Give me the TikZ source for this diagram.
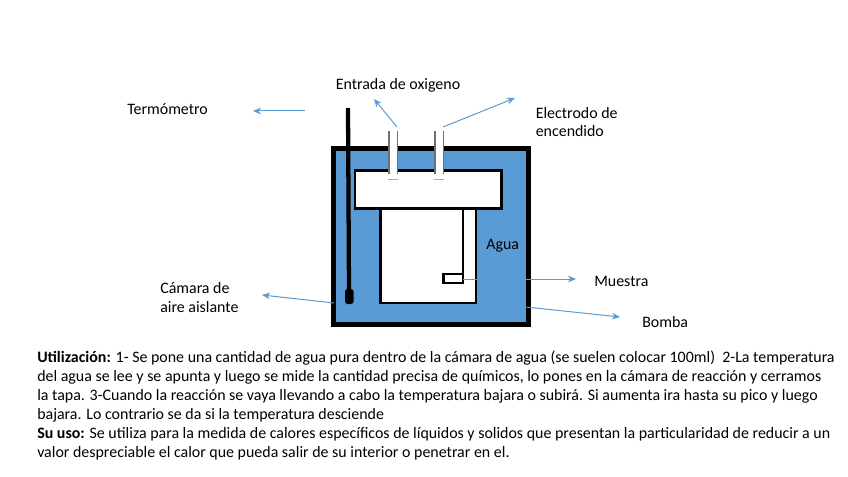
\documentclass[tikz,border=0pt]{standalone}
\usepackage{fontspec}
\setmainfont{Carlito}
\usetikzlibrary{arrows.meta}
\definecolor{agua}{HTML}{5B9BD5}
\definecolor{tubo}{HTML}{6F6F6F}
\tikzset{
  lbl/.style={anchor=base west,inner sep=0pt,font=\fontsize{11.95pt}{14pt}\selectfont},
  txt/.style={anchor=base west,inner sep=0pt,font=\fontsize{11.95pt}{14pt}\selectfont},
  callout/.style={draw=agua,line width=0.75pt,-{Stealth[length=6pt,width=5pt]}},
  wall/.style={draw=black,line width=1.9pt},
  tubeedge/.style={draw=tubo,line width=1.1pt},
}
\begin{document}
\begin{tikzpicture}[x=0.75pt,y=-0.75pt]
\useasboundingbox (0,0) rectangle (848,477);
\fill[white] (0,0) rectangle (848,477);
% bomb
\path[fill=agua,draw=black,line width=3.75pt] (333.5,148.5) rectangle (528.5,324.5);
% reaction chamber
\path[fill=white,wall] (380.5,209) rectangle (476,303);
% lid
\path[fill=white,wall] (355,170.5) rectangle (501.5,208.5);
% sample holder
\draw[wall] (462.8,209) -- (462.8,274);
\path[fill=white,wall] (443.5,274) rectangle (462.8,283);
% thermometer
\draw[black,line width=3.2pt] (348,108) -- (349,292);
\fill[black,rounded corners=2pt] (345,289) rectangle (353.5,304);
% tubes
\fill[white] (389,131) rectangle (397.5,173);
\fill[white] (435,131) rectangle (443.5,173);
\draw[tubeedge] (389,131) -- (389,174);
\draw[tubeedge] (397.5,131) -- (397.5,174);
\draw[tubeedge] (435,131) -- (435,174);
\draw[tubeedge] (443.5,131) -- (443.5,174);
\draw[draw=tubo!60,line width=0.6pt] (388,179) -- (398,179);
\draw[draw=tubo!60,line width=0.6pt] (434,179) -- (444,179);
% labels
\node[lbl] (termo) at (127,115) {Termómetro};
\node[lbl] (entrada) at (335.5,89.5) {Entrada de oxigeno};
\node[lbl] (electrodo1) at (535.5,118.5) {Electrodo de};
\node[lbl] (electrodo2) at (535.5,136.5) {encendido};
\node[lbl] (aguatxt) at (486,249) {Agua};
\node[lbl] (camara1) at (160,293) {Cámara de};
\node[lbl] (camara2) at (160,312) {aire aislante};
\node[lbl] (muestra) at (594,286) {Muestra};
\node[lbl] (bomba) at (642,327) {Bomba};
% callouts
\coordinate (a1) at (305,111); \coordinate (b1) at (253,111);
\coordinate (a2) at (397,127); \coordinate (b2) at (374,99);
\coordinate (a3) at (443,127); \coordinate (b3) at (515,98);
\coordinate (a4) at (334,303); \coordinate (b4) at (262,295);
\coordinate (a5) at (463,279); \coordinate (b5) at (576,279);
\coordinate (a6) at (526,307); \coordinate (b6) at (620,317);
\draw[callout] (a1) -- (b1);
\draw[callout] (a2) -- (b2);
\draw[callout] (a3) -- (b3);
\draw[callout] (a4) -- (b4);
\draw[callout] (a5) -- (b5);
\draw[callout] (a6) -- (b6);
% text
\node[txt] (t1) at (37,362) {\textbf{Utilización:} 1- Se pone una cantidad de agua pura dentro de la cámara de agua (se suelen colocar 100ml)\ \ 2-La temperatura};
\node[txt] (t2) at (37,381) {del agua se lee y se apunta y luego se mide la cantidad precisa de químicos, lo pones en la cámara de reacción y cerramos};
\node[txt] (t3) at (37,400) {la tapa. 3-Cuando la reacción se vaya llevando a cabo la temperatura bajara o subirá. Si aumenta ira hasta su pico y luego};
\node[txt] (t4) at (37,419) {bajara. Lo contrario se da si la temperatura desciende};
\node[txt] (t5) at (37,438) {\textbf{Su uso:} Se utiliza para la medida de calores específicos de líquidos y solidos que presentan la particularidad de reducir a un};
\node[txt] (t6) at (37,457) {valor despreciable el calor que pueda salir de su interior o penetrar en el.};
\end{tikzpicture}
\end{document}
